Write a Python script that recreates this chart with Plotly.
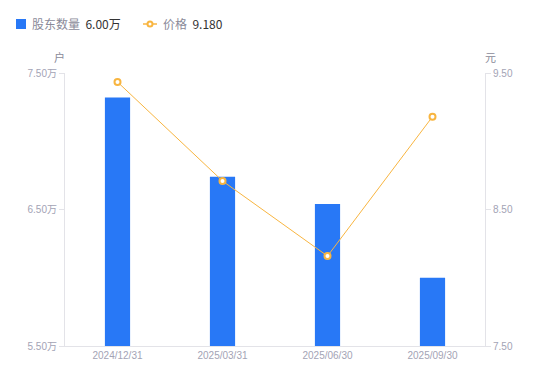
import plotly.graph_objects as go

categories = ["2024/12/31", "2025/03/31", "2025/06/30", "2025/09/30"]
holders = [7.32, 6.74, 6.54, 6.00]  # 万户
prices = [9.434, 8.709, 8.159, 9.180]  # 元
left_ticks = [5.5, 6.5, 7.5]
right_ticks = [7.5, 8.5, 9.5]

BLUE = "#2878F6"
ORANGE = "#F8B540"
GRAY = "#A3A3B5"
LABEL = "#8a8a99"
DARK = "#333333"
AXIS = "#E3E3E8"
TICKFONT = "Liberation Sans, Arial, Noto Sans CJK SC, sans-serif"
CJKFONT = "Noto Sans CJK SC, sans-serif"

L, R, T, B = 65, 65, 73, 35
W, H = 550, 381
pw, ph = W - L - R, H - T - B


def px(x):
    return (x - L) / pw


def py(y):
    return (H - B - y) / ph


fig = go.Figure()
fig.add_trace(go.Bar(
    x=categories, y=holders, yaxis="y",
    marker=dict(color=BLUE, line=dict(width=0)),
    width=0.24, showlegend=False,
))
fig.add_trace(go.Scatter(
    x=categories, y=prices, yaxis="y2", mode="lines+markers",
    line=dict(color=ORANGE, width=1),
    marker=dict(symbol="circle", size=6, color="white", line=dict(color=ORANGE, width=2)),
    showlegend=False,
))

fig.update_layout(
    width=W, height=H,
    margin=dict(l=L, r=R, t=T, b=B),
    paper_bgcolor="white", plot_bgcolor="white",
    font=dict(family=TICKFONT, size=10, color=GRAY),
    showlegend=False,
    xaxis=dict(
        showline=True, linecolor=AXIS, linewidth=1, ticks="",
        showgrid=False, tickfont=dict(size=10, color=GRAY, family=TICKFONT),
        zeroline=False,
    ),
    yaxis=dict(
        range=[5.5, 7.5], tickvals=left_ticks,
        ticktext=[f"{v:.2f}万" for v in left_ticks],
        showline=True, linecolor=AXIS, linewidth=1,
        ticks="outside", ticklen=5, tickcolor=AXIS,
        showgrid=False, zeroline=False,
        tickfont=dict(size=10, color=GRAY, family=TICKFONT),
    ),
    yaxis2=dict(
        range=[7.5, 9.5], tickvals=right_ticks,
        ticktext=[f"{v:.2f}" for v in right_ticks],
        overlaying="y", side="right",
        showline=True, linecolor=AXIS, linewidth=1,
        ticks="outside", ticklen=5, tickcolor=AXIS,
        showgrid=False, zeroline=False,
        tickfont=dict(size=10, color=GRAY, family=TICKFONT),
    ),
)

# unit labels
fig.add_annotation(text="户", x=px(59), y=py(57), xref="paper", yref="paper",
                   xanchor="center", yanchor="middle", showarrow=False,
                   font=dict(size=11, color=LABEL, family=CJKFONT))
fig.add_annotation(text="元", x=px(490), y=py(57), xref="paper", yref="paper",
                   xanchor="center", yanchor="middle", showarrow=False,
                   font=dict(size=11, color=LABEL, family=CJKFONT))

# custom legend
fig.add_shape(type="rect", xref="paper", yref="paper",
              x0=px(16), x1=px(26), y0=py(29), y1=py(19),
              fillcolor=BLUE, line=dict(width=0))
fig.add_annotation(
    text=f"<span style='color:{LABEL}'>股东数量</span>  <span style='color:{DARK}'>{holders[-1]:.2f}万</span>",
    x=px(30), y=py(24), xref="paper", yref="paper", xanchor="left", yanchor="middle",
    showarrow=False, font=dict(size=12, family=CJKFONT))
fig.add_shape(type="line", xref="paper", yref="paper",
              x0=px(143), x1=px(157), y0=py(24), y1=py(24),
              line=dict(color=ORANGE, width=1.5))
fig.add_shape(type="circle", xref="paper", yref="paper",
              x0=px(147.5), x1=px(152.5), y0=py(26.5), y1=py(21.5),
              fillcolor="white", line=dict(color=ORANGE, width=2))
fig.add_annotation(
    text=f"<span style='color:{LABEL}'>价格</span>  <span style='color:{DARK}'>{prices[-1]:.3f}</span>",
    x=px(161), y=py(24), xref="paper", yref="paper", xanchor="left", yanchor="middle",
    showarrow=False, font=dict(size=12, family=CJKFONT))

fig.write_html("out.html")
